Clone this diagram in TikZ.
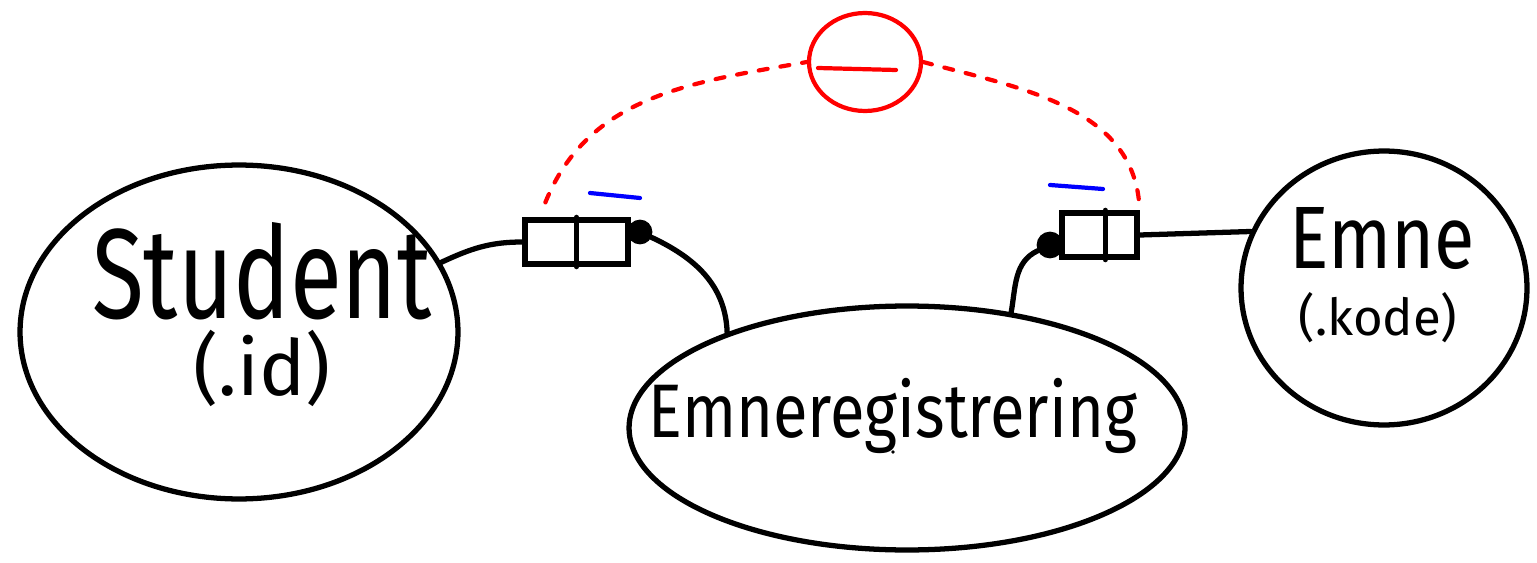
\documentclass[tikz,border=0pt]{standalone}
\usepackage{fontspec}
\setmainfont{Fira Sans}
\usetikzlibrary{shapes.geometric,calc}
\begin{document}
\begin{tikzpicture}[x=0.02cm,y=0.02cm,
  ink/.style={line width=3pt, line cap=round, line join=round},
  blob/.style={ellipse, draw, line width=3pt, inner sep=0},
  port/.style={draw, line width=3pt, minimum height=0.88cm, inner sep=0},
  knob/.style={circle, draw, fill=black, line width=1pt, inner sep=0},
  redink/.style={red, line width=2.4pt, line cap=round},
  reddash/.style={redink, dash pattern=on 0.18cm off 0.26cm},
  blueink/.style={blue, line width=2.4pt, line cap=round},
  txt/.style={inner sep=0}]
\useasboundingbox (0,0) rectangle (1537,562);

% entity ellipses
\node[blob, minimum width=8.76cm, minimum height=6.68cm] (student) at (239,230) {};
\node[blob, minimum width=11.12cm, minimum height=4.88cm] (emreg) at (907,134) {};
\node[blob, minimum width=5.72cm, minimum height=5.48cm] (emne) at (1384,274) {};

% entity texts
\node[txt, anchor=base] (tstudent) at (262,244)
  {\fontsize{54}{60}\selectfont\scalebox{1}[1.35]{Student}};
\node[txt] (tid) at (262,194) {\fontsize{44}{50}\selectfont (.id)};
\node[txt, anchor=base] (temreg) at (893,125)
  {\fontsize{36}{42}\selectfont\scalebox{1}[1.2]{Emneregistrering}};
\node[txt, anchor=base] (temne) at (1382,294)
  {\fontsize{42}{48}\selectfont\scalebox{1}[1.2]{Emne}};
\node[txt] (tkode) at (1378,244) {\fontsize{29}{34}\selectfont (.kode)};
\fill (893,110) circle (1.8);

% association ports
\node[port, minimum width=2.06cm] (lbox) at (576.5,320) {};
\draw[ink] (lbox.north) -- (lbox.south);
\node[port, minimum width=1.5cm] (rbox) at (1099.5,327) {};
\draw[ink] ($(rbox.north west)!0.57!(rbox.north east)$) -- ($(rbox.south west)!0.57!(rbox.south east)$);

\node[knob, minimum size=0.46cm] (ldot) at (640,330) {};
\node[knob, minimum size=0.5cm] (rdot) at (1050,317) {};

% connectors
\draw[ink] (student.19) to[out=25,in=180] (lbox.west);
\draw[ink] (ldot) to[out=-25,in=92] (emreg.152);
\draw[ink] (rbox.east) -- (emne.157);
\draw[ink] (rdot) to[out=205,in=80] (emreg.48);

% blue markers
\draw[blueink] (590,369) -- (640,364);
\draw[blueink] (1050,377) -- (1103,373);

% red constraint
\node[ellipse, draw=red, line width=2.4pt, minimum width=2.24cm, minimum height=1.96cm, inner sep=0] (excl) at (865,500) {};
\draw[redink] (818,494) -- (896,492);
\coordinate (rstart) at ($(lbox.north west)+(23,15)$);
\draw[reddash] (rstart) to[out=68,in=190] (excl.west);
\draw[reddash] (excl.east) to[out=-15,in=92] (rbox.north east);
\end{tikzpicture}
\end{document}
